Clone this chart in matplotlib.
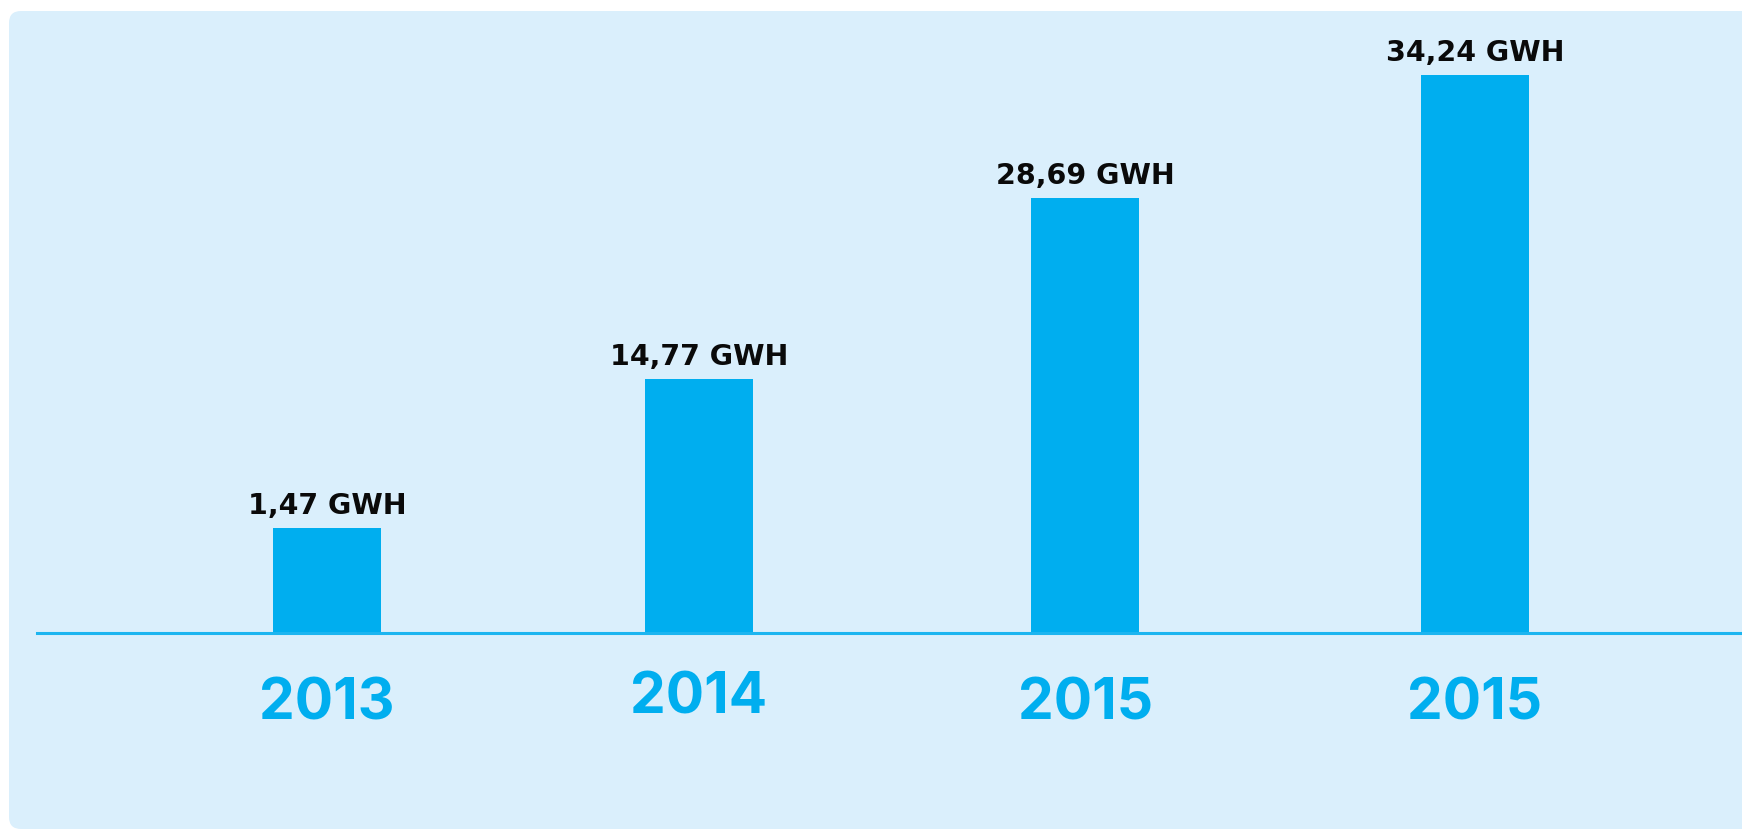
import matplotlib
matplotlib.use("Agg")
import matplotlib.pyplot as plt
from matplotlib.patches import FancyBboxPatch

# ---- data ----
years = ["2013", "2014", "2015", "2015"]
values = [1.47, 14.77, 28.69, 34.24]           # GWh, shown in labels
value_labels = ["1,47 GWH", "14,77 GWH", "28,69 GWH", "34,24 GWH"]
bar_heights = [105, 254, 435, 558]             # drawn heights (chart is not to scale)

# ---- layout ----
W, H = 1742, 831
x_offsets = [0.0, -0.028, -0.018, 0.0]
year_dy = [0, 6, 0, 0]
bar_width = 0.282
cyan = "#00AEEF"
panel = "#DAEFFC"

fig = plt.figure(figsize=(W / 100, H / 100), dpi=100, facecolor="white")

# background panel
bg = fig.add_axes([0, 0, 1, 1], zorder=0)
bg.set_xlim(0, W)
bg.set_ylim(H, 0)
bg.axis("off")
bg.add_patch(FancyBboxPatch((9, 11), 1820, 818,
                            boxstyle="round,pad=0,rounding_size=12",
                            facecolor=panel, edgecolor="none"))

base_px = 633
ax = fig.add_axes([37 / W, (H - base_px) / H, 1 - 37 / W, base_px / H], zorder=1)
ax.patch.set_alpha(0)
ax.set_xlim(-0.758, 3.698)
ax.set_ylim(0, base_px)

xs = [i + o for i, o in enumerate(x_offsets)]
ax.bar(xs, bar_heights, width=bar_width, color=cyan, zorder=2)

for x, h, lab in zip(xs, bar_heights, value_labels):
    ax.text(x, h + 14, lab, ha="center", va="baseline",
            fontsize=20.5, fontweight="bold", family="DejaVu Sans",
            color="#0A0A0A")

for x, y, dy in zip(xs, years, year_dy):
    ax.text(x, -87 + dy, y, ha="center", va="baseline",
            fontsize=41, fontweight="bold", family="Inter",
            color=cyan, clip_on=False)

for s in ["top", "right", "left"]:
    ax.spines[s].set_visible(False)
ax.spines["bottom"].set_color("#1CB5F0")
ax.spines["bottom"].set_linewidth(2.2)
ax.set_xticks([])
ax.set_yticks([])

fig.savefig("out.png", dpi=100, facecolor="white")
